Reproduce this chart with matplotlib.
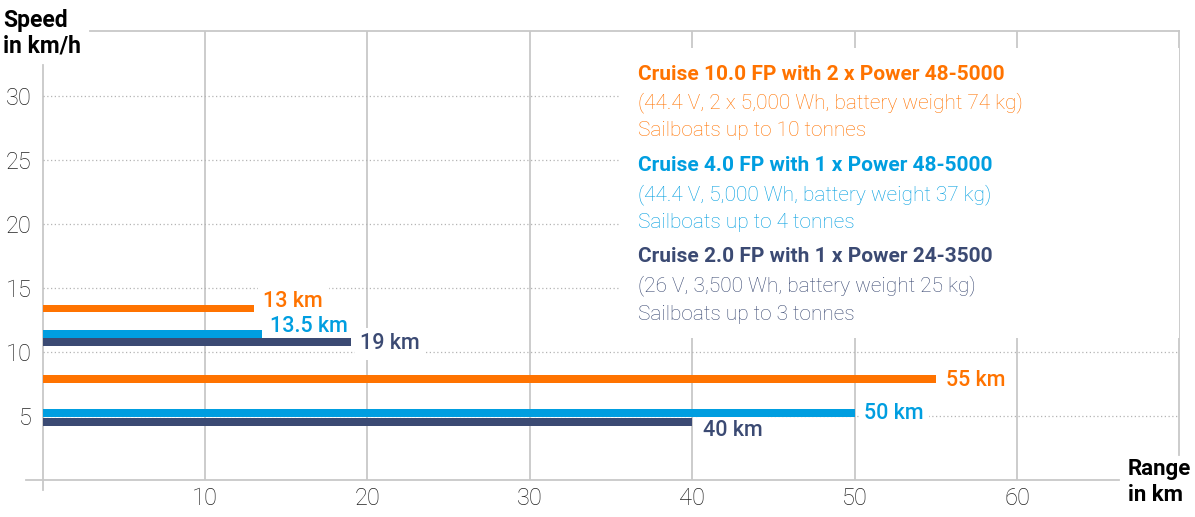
import matplotlib
matplotlib.use("Agg")
import matplotlib.pyplot as plt
from matplotlib.patches import Rectangle

plt.rcParams["font.family"] = ["Roboto", "DejaVu Sans"]

# data
speed_ticks = [5, 10, 15, 20, 25, 30]
range_ticks = [10, 20, 30, 40, 50, 60]

models = ["Cruise 10.0 FP", "Cruise 4.0 FP", "Cruise 2.0 FP"]
colors = ["#ff7300", "#009ee0", "#3b4a73"]
range_fast = [13, 13.5, 19]          # km
speed_fast = [13.4, 11.4, 10.78]     # km/h
range_slow = [55, 50, 40]
speed_slow = [7.9, 5.2, 4.55]
labels_fast = ["13 km", "13.5 km", "19 km"]
labels_slow = ["55 km", "50 km", "40 km"]

legend_titles = [
    "Cruise 10.0 FP with 2 x Power 48-5000",
    "Cruise 4.0 FP with 1 x Power 48-5000",
    "Cruise 2.0 FP with 1 x Power 24-3500",
]
legend_specs = [
    "(44.4 V, 2 x 5,000 Wh, battery weight 74 kg)",
    "(44.4 V, 5,000 Wh, battery weight 37 kg)",
    "(26 V, 3,500 Wh, battery weight 25 kg)",
]
legend_boats = [
    "Sailboats up to 10 tonnes",
    "Sailboats up to 4 tonnes",
    "Sailboats up to 3 tonnes",
]

W, H = 1195, 517
fig = plt.figure(figsize=(W / 100, H / 100), dpi=100)
ax = fig.add_axes([42.6 / W, 37 / H, 1136.8 / W, 449.3 / H])
ax.set_xlim(0, 70)
ax.set_ylim(0, 35.1)
for s in ax.spines.values():
    s.set_visible(False)

grid = "#c8c8c8"
# frame
ax.plot([2.9, 70], [35.1, 35.1], color=grid, lw=1.3, clip_on=False, zorder=1)
ax.plot([70, 70], [35.1, 1.95], color=grid, lw=1.3, clip_on=False, zorder=1)
ax.plot([-1.05, 66.3], [0, 0], color=grid, lw=1.3, clip_on=False, zorder=1)
ax.plot([0, 0], [-0.8, 32.4], color=grid, lw=1.3, clip_on=False, zorder=1)

# grid
ax.vlines(range_ticks, 0, 35.1, color=grid, lw=1.3, zorder=1)
ax.hlines(speed_ticks, 0, 70, color="#b4b4b4", lw=0.9, linestyles=(0, (1, 2)), zorder=1)

ax.set_xticks(range_ticks)
ax.set_yticks(speed_ticks)
ax.tick_params(length=0, labelsize=17, labelcolor="#222222")
ax.tick_params(axis="x", pad=5)
ax.tick_params(axis="y", pad=8)
for t in ax.get_xticklabels() + ax.get_yticklabels():
    t.set_fontweight("light")

# white box behind the legend text
ax.add_patch(Rectangle((35.55, 11.1), 34.45, 22.65, facecolor="white",
                       edgecolor="none", zorder=2))

bh = 0.62
ax.barh(speed_fast, range_fast, height=bh, color=colors, zorder=4)
ax.barh(speed_slow, range_slow, height=bh, color=colors, zorder=4)

off_fast = [(7, 5), (6, 5.8), (6.5, -1.4)]
off_slow = [(7, -1), (7, 0), (8, -6)]
for xs, ys, labs, offs in [(range_fast, speed_fast, labels_fast, off_fast),
                           (range_slow, speed_slow, labels_slow, off_slow)]:
    for x, y, lab, c, o in zip(xs, ys, labs, colors, offs):
        ax.annotate(lab, (x, y), xytext=o, textcoords="offset points",
                    ha="left", va="center", fontsize=15.5, fontweight="medium",
                    color=c, zorder=3,
                    bbox=dict(boxstyle="square,pad=0.25", fc="white", ec="none"))

# legend text block
for i in range(3):
    y0 = 74 + i * 91.5
    fig.text(638 / W, 1 - y0 / H, legend_titles[i], color=colors[i],
             fontsize=15, fontweight="bold", va="center", ha="left")
    fig.text(638 / W, 1 - (y0 + 28.7) / H, legend_specs[i], color=colors[i],
             fontsize=15, fontweight="light", va="center", ha="left")
    fig.text(638 / W, 1 - (y0 + 57) / H, legend_boats[i], color=colors[i],
             fontsize=15, fontweight="light", va="center", ha="left")

fig.text(3 / W, 1 - 33 / H, "Speed\nin km/h", fontsize=16.5, fontweight="bold",
         color="black", ha="left", va="center", linespacing=1.15)
fig.text(1128 / W, 1 - 482 / H, "Range\nin km", fontsize=16, fontweight="bold",
         color="black", ha="left", va="center", linespacing=1.2)

fig.savefig("out.png", dpi=100)
